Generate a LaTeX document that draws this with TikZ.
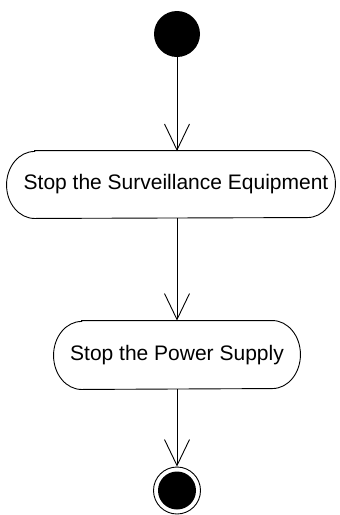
\documentclass[tikz,border=0pt]{standalone}
\usepackage{fontspec}
\setmainfont{Liberation Sans}
\usetikzlibrary{arrows.meta}
\begin{document}
\begin{tikzpicture}[x=1pt,y=1pt,
  line width=0.9pt,
  action/.style={rectangle, inner sep=0pt, font=\fontsize{21}{25}\selectfont},
  flow/.style={-{Straight Barb[length=26pt,width=25pt,line width=0.9pt]}},
  startnode/.style={circle, fill=black, minimum size=46pt, inner sep=0pt},
  endouter/.style={circle, draw, minimum size=47pt, inner sep=0pt},
  endinner/.style={circle, fill=black, minimum size=38pt, inner sep=0pt}]
\useasboundingbox (0,0) rectangle (340,-515);
\node[startnode] (start) at (177,-34) {};
\node[action, minimum width=328pt, minimum height=67pt] (a1) at (171,-184.5) {\hspace*{10pt}Stop the Surveillance Equipment};
\node[action, minimum width=246pt, minimum height=68pt] (a2) at (177,-355) {Stop the Power Supply};
\draw ([xshift=28pt]a1.north west) -- ([xshift=-28pt]a1.north east)
  arc[start angle=90,end angle=-90,x radius=28pt,y radius=33.5pt]
  -- ([xshift=28pt]a1.south west)
  arc[start angle=270,end angle=90,x radius=28pt,y radius=33.5pt] -- cycle;
\draw ([xshift=28pt]a2.north west) -- ([xshift=-28pt]a2.north east)
  arc[start angle=90,end angle=-90,x radius=28pt,y radius=34pt]
  -- ([xshift=28pt]a2.south west)
  arc[start angle=270,end angle=90,x radius=28pt,y radius=34pt] -- cycle;
\node[endouter] (end) at (177,-490.5) {};
\node[endinner] (endin) at (end.center) {};
\coordinate (a1top) at (177,-151);
\coordinate (a1bot) at (177,-218);
\draw[flow] (start) -- (a1top);
\draw[flow] (a1bot) -- (a2);
\draw[flow] (a2) -- (end);
\end{tikzpicture}
\end{document}
